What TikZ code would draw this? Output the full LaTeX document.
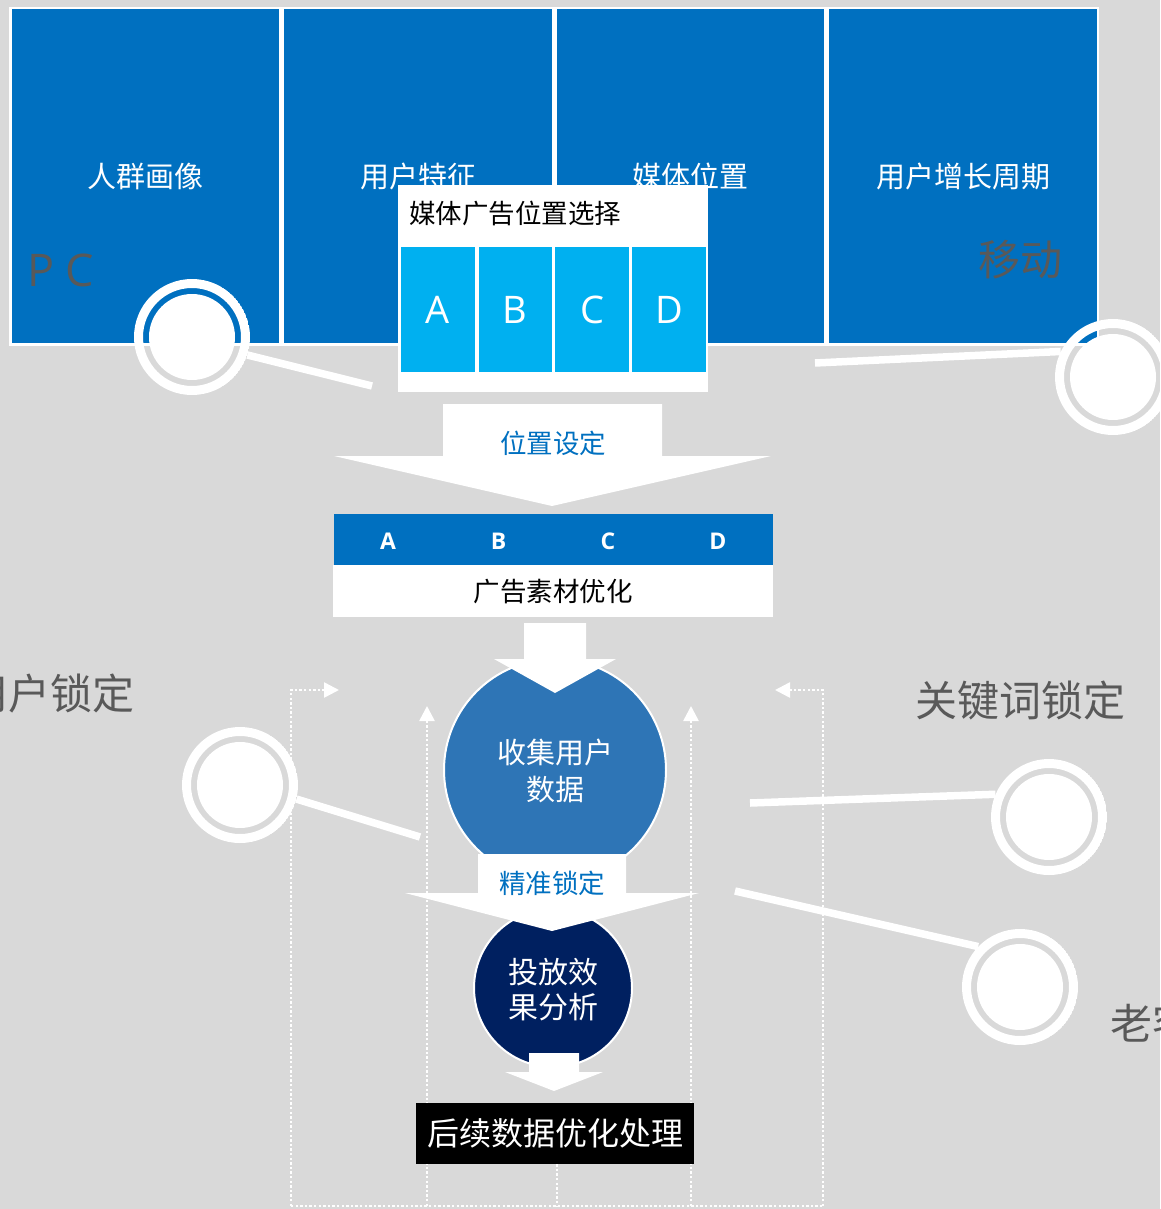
\documentclass[tikz,border=0pt]{standalone}
\usepackage{fontspec}
\setmainfont{Noto Sans CJK SC}
\newfontfamily\latin{Open Sans}
\usetikzlibrary{arrows.meta}
\definecolor{bg}{HTML}{D9D9D9}
\definecolor{topblue}{HTML}{0070C0}
\definecolor{cellblue}{HTML}{00B0F0}
\definecolor{circblue}{HTML}{2E75B6}
\definecolor{navy}{HTML}{002060}
\definecolor{greytext}{HTML}{595959}
\begin{document}
\begin{tikzpicture}[x=1pt,y=-1pt,
  topbox/.style={rectangle, fill=topblue, draw=white, line width=2.5pt, inner sep=0pt,
    minimum width=270pt, minimum height=336.5pt, text=white, font=\fontsize{29pt}{35pt}\selectfont},
  cell/.style={rectangle, fill=cellblue, inner sep=0pt, minimum width=73.5pt, minimum height=125pt,
    text=white, font=\latin\fontsize{38pt}{44pt}\selectfont},
  ringnode/.style={circle, minimum size=116pt, inner sep=0pt,
    path picture={\draw[white,line width=9pt] (path picture bounding box.center) circle[radius=53.5pt];
      \fill[white] (path picture bounding box.center) circle[radius=43pt];}},
  conn/.style={white, line width=7.5pt},
  dotline/.style={white, line width=2.6pt, dash pattern=on 2.4pt off 2.2pt},
  dottip/.style={-{Triangle[length=15pt,width=15pt]}},
  greylabel/.style={text=greytext, font=\fontsize{42pt}{48pt}\selectfont, inner sep=0pt},
  bluelabel/.style={text=topblue, font=\fontsize{26.5pt}{32pt}\selectfont, inner sep=0pt},
  hdrletter/.style={text=white, font=\latin\bfseries\fontsize{23pt}{28pt}\selectfont, inner sep=0pt}
]
\useasboundingbox (0,0) rectangle (1160,1209);
\clip (0,0) rectangle (1160,1209);
\fill[bg] (0,0) rectangle (1160,1209);

% dotted feedback lines
\coordinate (lb) at (291,1206); \coordinate (lt) at (291,690); \coordinate (la) at (339,690);
\coordinate (li) at (427,1206); \coordinate (lia) at (427,706);
\coordinate (ri) at (691,1206); \coordinate (ria) at (691,706);
\coordinate (rb) at (823,1206); \coordinate (rt) at (823,690); \coordinate (ra) at (775,690);
\coordinate (mb) at (557,1206);
\draw[dotline] (lb) -- (rb);
\draw[dotline, dottip] (lb) -- (lt) -- (la);
\draw[dotline, dottip] (li) -- (lia);
\draw[dotline, dottip] (ri) -- (ria);
\draw[dotline, dottip] (rb) -- (rt) -- (ra);

% top boxes
\node[topbox] (b1) at (145.5,176.25) {人群画像};
\node[topbox] (b2) at (418,176.25) {用户特征};
\node[topbox] (b3) at (690.5,176.25) {媒体位置};
\node[topbox] (b4) at (963,176.25) {用户增长周期};
\node[text=greytext, font=\latin\fontsize{45pt}{50pt}\selectfont, inner sep=0pt, anchor=west] (pc) at (27,270) {P C};
\node[greylabel, anchor=west] (mob) at (978,260) {移动};

% media panel
\node[rectangle, fill=white, minimum width=310pt, minimum height=207pt, inner sep=0pt] (panel) at (553,288.5) {};
\node[anchor=west, inner sep=0pt, font=\fontsize{26.5pt}{32pt}\selectfont] (ptitle) at (409,213) {媒体广告位置选择};
\node[cell] (ca) at (438,309.5) {\raisebox{-2pt}{A}};
\node[cell] (cb) at (515.25,309.5) {\raisebox{-2pt}{B}};
\node[cell] (cc) at (592,309.5) {\raisebox{-2pt}{C}};
\node[cell] (cd) at (669,309.5) {\raisebox{-2pt}{D}};

% ring markers and connectors
\node[ringnode] (c1) at (192,337) {};
\node[ringnode] (c2) at (1113,377) {};
\node[ringnode] (c3) at (240,785) {};
\node[ringnode] (c4) at (1049,817) {};
\node[ringnode] (c5) at (1020,987) {};
\coordinate (e1) at (372,386);
\coordinate (e2) at (815,363);
\coordinate (e3) at (420,837);
\coordinate (e4) at (750,803);
\coordinate (e5) at (735,891);
\draw[conn] (c1.-18) -- (e1);
\draw[conn] (e2) -- (c2.154);
\draw[conn] (c3.-14) -- (e3);
\draw[conn] (e4) -- (c4.157);
\draw[conn] (e5) -- (c5.136);

\node[greylabel, anchor=east] (lu) at (135,694) {用户锁定};
\node[greylabel, anchor=west] (lk) at (915,700) {关键词锁定};
\node[greylabel, anchor=west] (lo) at (1110,1023) {老客户锁定};

% arrow 1
\fill[white] (443,404) -- (662,404) -- (662,456) -- (771,456) -- (552,506) -- (334,456) -- (443,456) -- cycle;
\node[bluelabel] (t1) at (553,443) {位置设定};

% ABCD box
\node[rectangle, fill=topblue, minimum width=439pt, minimum height=51pt, inner sep=0pt] (hdr) at (553.5,539.5) {};
\node[rectangle, fill=white, minimum width=440pt, minimum height=51.5pt, inner sep=0pt] (body) at (553,590.75) {};
\node[hdrletter] (ha) at (388,541) {A};
\node[hdrletter] (hb) at (498.5,541) {B};
\node[hdrletter] (hc) at (608,541) {C};
\node[hdrletter] (hd) at (718,541) {D};
\node[inner sep=0pt, font=\fontsize{26.5pt}{32pt}\selectfont] (bt) at (553,592) {广告素材优化};

% collect circle
\node[circle, fill=circblue, draw=white, line width=2pt, minimum size=222pt, inner sep=0pt] (collect) at (555,770) {};
\fill[white] (524,623) -- (586,623) -- (586,659) -- (616,659) -- (555,693) -- (494,659) -- (524,659) -- cycle;
\node[text=white, align=center, inner sep=0pt, font=\fontsize{29pt}{37pt}\selectfont] (ct) at (555,770.5) {收集用户\\数据};

% analysis circle
\node[circle, fill=navy, draw=white, line width=2pt, minimum size=158pt, inner sep=0pt] (analysis) at (553,988) {};
\fill[white] (478,854) -- (626,854) -- (626,893) -- (699,893) -- (552,931) -- (405,893) -- (478,893) -- cycle;
\node[bluelabel] (t2) at (552,883) {精准锁定};
\node[text=white, align=center, inner sep=0pt, font=\fontsize{30pt}{35pt}\selectfont] (at) at (553,989.5) {投放效\\果分析};
\fill[white] (529,1053) -- (579,1053) -- (579,1072) -- (603,1072) -- (554,1091) -- (505,1072) -- (529,1072) -- cycle;

% final box
\node[rectangle, fill=black, minimum width=278pt, minimum height=61pt, inner sep=0pt,
  text=white, font=\fontsize{32pt}{38pt}\selectfont] (final) at (555,1133.5) {后续数据优化处理};
\draw[dotline] (final.south -| mb) -- (mb);
\end{tikzpicture}
\end{document}
